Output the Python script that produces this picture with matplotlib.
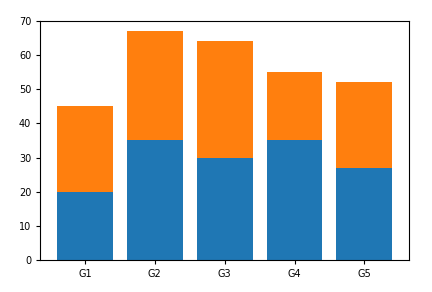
import matplotlib
matplotlib.use("Agg")
import matplotlib.pyplot as plt

labels = ['G1', 'G2', 'G3', 'G4', 'G5']
men_means = [20, 35, 30, 35, 27]
women_means = [25, 32, 34, 20, 25]

fig = plt.figure(figsize=(4.32, 2.92), dpi=100)
ax = fig.add_axes([0.093, 0.110, 0.854, 0.818])
ax.bar(labels, men_means, 0.8, color='#1f77b4')
ax.bar(labels, women_means, 0.8, bottom=men_means, color='#ff7f0e')
ax.set_ylim(0, 70)
ax.tick_params(labelsize=7, length=3, width=0.8)
for s in ax.spines.values():
    s.set_linewidth(0.8)
fig.savefig('out.png', dpi=100)
